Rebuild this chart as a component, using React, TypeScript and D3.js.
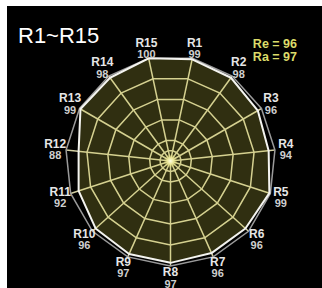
import { useRef, useEffect } from "react";
import * as d3 from "d3";

const categories = ["R1", "R2", "R3", "R4", "R5", "R6", "R7", "R8", "R9", "R10", "R11", "R12", "R13", "R14", "R15"];
const values = [99, 98, 96, 94, 99, 96, 96, 97, 97, 96, 92, 88, 99, 98, 100];
const ringLevels = [10, 20, 40, 60, 80];
const maxValue = 100;
const title = "R1~R15";
const summary = ["Re = 96", "Ra = 97"];

export default function App() {
    const svgRef = useRef<SVGSVGElement | null>(null);

    useEffect(() => {
        if (!svgRef.current) return;
        document.body.style.margin = "0";

        const width = 322;
        const height = 288;
        const cx = 170.5;
        const cy = 161;
        const font = "'Liberation Sans', Arial, sans-serif";

        const svg = d3.select(svgRef.current)
            .attr("width", width)
            .attr("height", height);
        svg.selectAll("*").remove();

        // white strip on top/left, black panel
        svg.append("rect").attr("width", width).attr("height", height).attr("fill", "#fff");
        svg.append("rect").attr("x", 7).attr("y", 6).attr("width", width - 7).attr("height", height - 6).attr("fill", "#000");

        const n = categories.length;
        const step = (2 * Math.PI) / n;
        // R1 sits half a step right of top
        const angle = d3.scaleLinear().domain([0, n]).range([step / 2, step / 2 + 2 * Math.PI]);
        const r = d3.scaleLinear().domain([0, maxValue]).range([0, 105]);

        const g = svg.append("g").attr("transform", `translate(${cx},${cy})`);

        const radial = d3.lineRadial<number>()
            .angle((_d, i) => angle(i))
            .radius((d) => r(d))
            .curve(d3.curveLinearClosed);

        // grid rings
        ringLevels.forEach((lv) => {
            g.append("path")
                .attr("d", radial(categories.map(() => lv)))
                .attr("fill", "none")
                .attr("stroke", "#d2cea2")
                .attr("stroke-width", 1.5);
        });

        // spokes
        g.selectAll(".spoke")
            .data(categories)
            .join("line")
            .attr("class", "spoke")
            .attr("x1", 0).attr("y1", 0)
            .attr("x2", (_d, i) => r(maxValue) * Math.sin(angle(i)))
            .attr("y2", (_d, i) => -r(maxValue) * Math.cos(angle(i)))
            .attr("stroke", "#d2cea2")
            .attr("stroke-width", 1.5);

        // outer max polygon
        g.append("path")
            .attr("d", radial(categories.map(() => maxValue)))
            .attr("fill", "none")
            .attr("stroke", "#9a9a9a")
            .attr("stroke-width", 1.5);

        // data fill overlay
        g.append("path")
            .attr("d", radial(values))
            .attr("fill", "rgba(225,222,80,0.21)")
            .attr("stroke", "none");

        // data outline
        g.append("path")
            .attr("d", radial(values))
            .attr("fill", "none")
            .attr("stroke", "#f4f4f0")
            .attr("stroke-width", 2)
            .attr("stroke-linejoin", "round");

        // center glow
        const grad = svg.append("defs").append("radialGradient").attr("id", "glow");
        grad.append("stop").attr("offset", "0%").attr("stop-color", "#ffffe8").attr("stop-opacity", 1);
        grad.append("stop").attr("offset", "45%").attr("stop-color", "#f4f0a0").attr("stop-opacity", 0.8);
        grad.append("stop").attr("offset", "100%").attr("stop-color", "#e8e070").attr("stop-opacity", 0);
        g.append("circle").attr("r", 7).attr("fill", "url(#glow)");

        // axis labels
        const labelR = 116;
        const labels = g.selectAll(".lbl")
            .data(categories)
            .join("g")
            .attr("class", "lbl")
            .attr("transform", (_d, i) => `translate(${labelR * Math.sin(angle(i))},${-labelR * Math.cos(angle(i))})`);

        labels.append("text")
            .attr("text-anchor", "middle")
            .attr("y", -1)
            .attr("font-family", font)
            .attr("font-weight", "bold")
            .attr("font-size", 12)
            .attr("fill", "#e6e6e6")
            .text((d) => d);

        labels.append("text")
            .attr("text-anchor", "middle")
            .attr("y", 10.5)
            .attr("font-family", font)
            .attr("font-weight", "bold")
            .attr("font-size", 11)
            .attr("fill", "#cfcfcf")
            .text((_d, i) => values[i]);

        // title
        svg.append("text")
            .attr("x", 18)
            .attr("y", 43)
            .attr("font-family", font)
            .attr("font-size", 22)
            .attr("fill", "#fff")
            .text(title);

        // summary
        summary.forEach((s, i) => {
            svg.append("text")
                .attr("x", 297)
                .attr("y", 48 + i * 13)
                .attr("text-anchor", "end")
                .attr("font-family", font)
                .attr("font-weight", "bold")
                .attr("font-size", 12.5)
                .attr("fill", "#dcdc6a")
                .text(s);
        });
    }, []);

    return <svg ref={svgRef} style={{ display: "block" }}></svg>;
}
